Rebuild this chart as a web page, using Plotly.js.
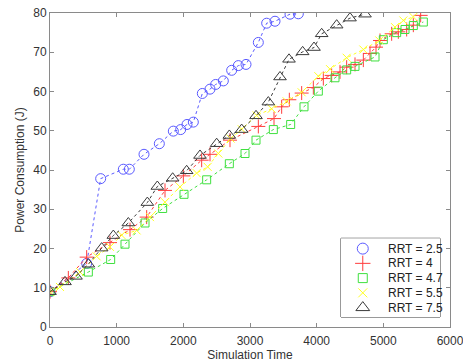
<!DOCTYPE html>
<html>
<head>
<meta charset="utf-8">
<script src="https://cdn.plot.ly/plotly-3.0.1.min.js"></script>
<style>html,body{margin:0;padding:0;background:#fff;}#chart{width:463px;height:364px;}</style>
</head>
<body>
<div id="chart"></div>
<script>
// RRT = 2.5
const t25 = [0, 550, 760, 1100, 1190, 1410, 1640, 1850, 1960, 2055, 2150, 2285, 2400, 2485, 2600, 2725, 2825, 2940, 3125, 3250, 3375, 3600, 3725];
const p25 = [9, 16.2, 37.8, 40.2, 40.2, 44.0, 46.7, 49.9, 50.3, 51.6, 52.2, 59.5, 60.6, 61.8, 62.7, 65.4, 66.6, 66.9, 72.5, 77.4, 77.9, 79.7, 79.8];
// RRT = 4
const t4 = [0, 275, 550, 900, 1200, 1450, 1725, 2000, 2275, 2400, 2700, 3125, 3360, 3475, 3590, 3775, 3950, 4100, 4225, 4350, 4450, 4575, 4700, 4800, 4890, 4950, 5125, 5225, 5350, 5450, 5560];
const p4 = [9, 12.5, 17.8, 21.5, 24.8, 28.0, 34.8, 38.5, 42.5, 44.0, 47.6, 51.1, 53.1, 56.1, 57.9, 59.6, 61.0, 63.3, 64.1, 65.0, 66.2, 66.9, 68.0, 69.7, 71.3, 73.0, 74.7, 75.2, 75.8, 76.9, 79.4];
// RRT = 4.7
const t47 = [0, 575, 910, 1125, 1425, 1690, 2010, 2350, 2690, 2925, 3090, 3350, 3610, 3810, 4025, 4275, 4450, 4575, 4875, 5000, 5200, 5325, 5450, 5600];
const p47 = [9, 14.0, 17.2, 21.1, 26.5, 30.2, 33.8, 37.5, 41.6, 44.2, 47.6, 50.3, 51.6, 56.1, 60.1, 63.5, 65.5, 66.4, 68.8, 73.2, 75.0, 75.8, 76.8, 77.7];
// RRT = 5.5
const t55 = [0, 150, 450, 700, 900, 1075, 1300, 1500, 1725, 1950, 2200, 2365, 2525, 2710, 2875, 3100, 3325, 3550, 3775, 4025, 4200, 4450, 4700, 4940, 5175, 5300, 5450];
const p55 = [9, 10.2, 14.0, 18.0, 20.4, 23.4, 24.6, 28.0, 31.8, 35.7, 39.2, 40.8, 44.2, 48.0, 50.4, 53.9, 55.6, 57.5, 59.8, 63.9, 65.7, 68.6, 70.7, 73.0, 76.4, 78.1, 79.0];
// RRT = 7.5
const t75 = [0, 225, 390, 575, 775, 950, 1175, 1460, 1610, 1840, 2050, 2250, 2500, 2690, 2875, 3090, 3275, 3450, 3585, 3790, 3960, 4075, 4300, 4500, 4725];
const p75 = [9, 11.5, 12.9, 16.0, 20.1, 23.3, 26.5, 31.7, 35.8, 37.9, 39.8, 43.7, 46.7, 48.8, 50.3, 53.8, 57.3, 63.7, 68.2, 70.1, 71.2, 74.7, 76.9, 78.7, 79.7];

const names = ['RRT = 2.5', 'RRT = 4', 'RRT = 4.7', 'RRT = 5.5', 'RRT = 7.5'];
const xs = [t25, t4, t47, t55, t75];
const ys = [p25, p4, p47, p55, p75];
const colors = ['#5a5aff', '#ff3c3c', '#3fe03f', '#ffff22', '#3a3a3a'];
const symbols = ['circle-open', 'cross-thin-open', 'square-open', 'x-thin-open', 'triangle-up-open'];
const sizes = [10, 10, 8, 8, 11];

const FONT = 'Liberation Sans, Arial, sans-serif';
const traces = [];
for (let i = 0; i < 5; i++) {
  traces.push({
    x: xs[i], y: ys[i], mode: 'lines+markers', showlegend: false,
    line: {color: colors[i], width: 1, dash: 'dot'},
    marker: {symbol: symbols[i], size: sizes[i], color: colors[i], line: {color: colors[i], width: 1}}
  });
}
// legend (MATLAB style: marker only), drawn on an overlay axis by entry index
const legIdx = names.map((_, i) => i);
for (let i = 0; i < 5; i++) {
  traces.push({
    x: [0.22], y: [legIdx[i]], xaxis: 'x2', yaxis: 'y2', mode: 'markers', showlegend: false,
    marker: {symbol: symbols[i], size: sizes[i] + 1, color: colors[i], line: {color: colors[i], width: 1}}
  });
}
const annotations = names.map((n, i) => ({
  x: 0.45, y: legIdx[i], xref: 'x2', yref: 'y2', text: n, showarrow: false,
  xanchor: 'left', yanchor: 'middle', font: {family: FONT, size: 12, color: '#222'}
}));

const axisCommon = {
  showgrid: false, zeroline: false, showline: true, linecolor: '#8a8a8a', linewidth: 1,
  mirror: 'ticks', ticks: 'inside', ticklen: 4, tickcolor: '#8a8a8a',
  tickfont: {family: FONT, size: 12, color: '#333'}
};
const legX = [0.7275, 0.975], legY = [0.0318, 0.2825];

const layout = {
  width: 463, height: 364,
  margin: {l: 50, r: 13, t: 13, b: 37},
  paper_bgcolor: '#fff', plot_bgcolor: '#fff',
  showlegend: false,
  xaxis: Object.assign({}, axisCommon, {
    range: [0, 6000], dtick: 1000, tick0: 0, ticklabelstandoff: 3, ticklabeloverflow: 'allow',
    title: {text: 'Simulation Time', standoff: 3, font: {family: FONT, size: 12, color: '#333'}}
  }),
  yaxis: Object.assign({}, axisCommon, {
    range: [0, 80], dtick: 10, tick0: 0,
    title: {text: 'Power Consumption (J)', standoff: 6, font: {family: FONT, size: 12, color: '#333'}}
  }),
  xaxis2: {domain: legX, anchor: 'y2', range: [0, 1], visible: false, fixedrange: true},
  yaxis2: {domain: legY, anchor: 'x2', range: [4.64, -0.70], visible: false, fixedrange: true},
  shapes: [{type: 'rect', xref: 'paper', yref: 'paper', x0: legX[0], x1: legX[1], y0: legY[0], y1: legY[1],
            line: {color: '#333', width: 1}, fillcolor: '#fff', layer: 'below'}],
  annotations: annotations
};

Plotly.newPlot('chart', traces, layout, {displayModeBar: false, staticPlot: true});
</script>
</body>
</html>
